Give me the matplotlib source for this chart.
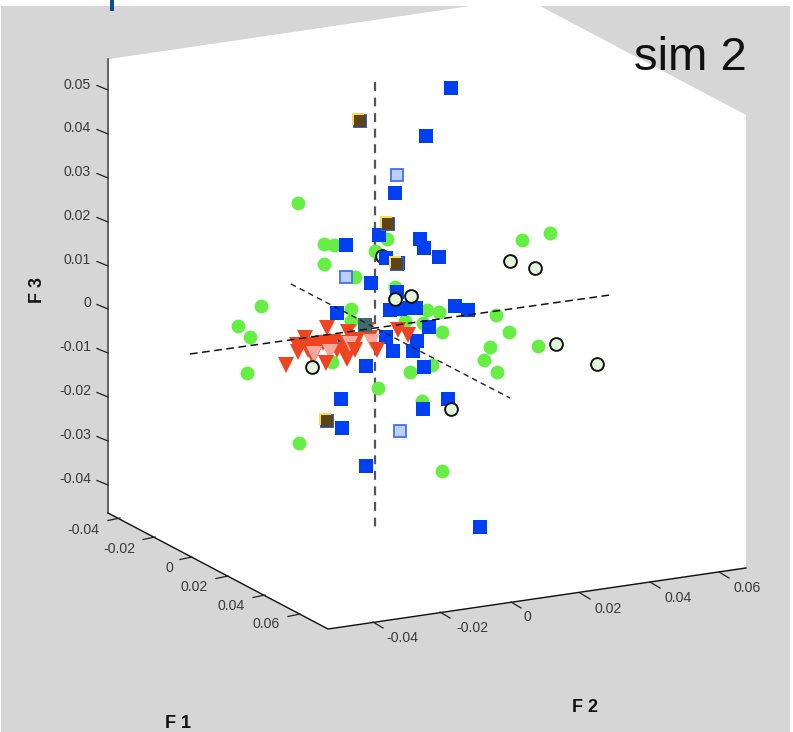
import matplotlib
matplotlib.use('Agg')
import matplotlib.pyplot as plt
from matplotlib.patches import Polygon, Rectangle
import numpy as np

blue_x = [451, 426, 395, 346, 379, 420, 424, 439, 386, 398, 371, 397, 390, 400, 416, 410, 455, 468, 429, 386,
          417, 393, 413, 424, 448, 423, 337, 366, 341, 342, 366, 480, 345]
blue_y = [88, 136, 193, 245, 235, 239, 248, 257, 258, 263, 283, 292, 310, 309, 308, 308, 306, 310, 327, 337,
          341, 351, 351, 367, 399, 409, 313, 366, 399, 428, 466, 527, 344]

green_x = [298, 324, 334, 324, 355, 387, 375, 395, 550, 522, 427, 439, 405, 423, 496, 442, 509, 538, 490, 484,
           497, 432, 410, 378, 422, 261, 238, 250, 247, 351, 351, 299, 442, 332, 332]
green_y = [203, 244, 245, 264, 277, 239, 251, 287, 233, 240, 310, 312, 321, 323, 315, 332, 332, 346, 347, 360,
           372, 365, 372, 388, 401, 306, 326, 337, 373, 309, 321, 443, 471, 345, 362]

ring_x = [510, 535, 395, 411, 556, 597, 451, 312]
ring_y = [261, 268, 299, 296, 344, 364, 409, 367]

red_x = [327, 348, 367, 305, 297, 312, 323, 333, 298, 308, 317, 345, 357, 370, 313, 337, 286, 398, 408, 327, 345]
red_y = [328, 332, 330, 338, 345, 345, 343, 342, 352, 350, 348, 343, 340, 338, 357, 350, 365, 330, 335, 345, 352]

pink_x = [372, 350, 314, 330]
pink_y = [342, 344, 354, 352]

# these red ones lie over the pink ones
red_top_x = [347, 355, 377, 326]
red_top_y = [359, 350, 350, 363]

lightblue_x = [397, 346, 400]
lightblue_y = [175, 277, 431]

brown_x = [359, 387, 396, 326]
brown_y = [120, 223, 263, 420]

box_x = [109, 470, 540, 746, 746, 328, 109]
box_y = [59, 6, 6, 115, 567, 629, 513]

f3_labels = ['0.05', '0.04', '0.03', '0.02', '0.01', '0', '-0.01', '-0.02', '-0.03', '-0.04']
f3_tick_y = [90, 134, 178, 222, 266, 309, 353, 397, 441, 485]
f3_label_y = [85, 128, 172, 216, 260, 303, 347, 391, 435, 479]

f1_labels = ['-0.04', '-0.02', '0', '0.02', '0.04', '0.06']
f1_tick_x = [120, 155, 192, 228, 265, 300]
f1_tick_y = [518, 537, 557, 576, 595, 614]
f1_label_x = [83, 119, 169, 194, 231, 266]
f1_label_y = [530, 549, 568, 587, 606, 624]

f2_labels = ['-0.04', '-0.02', '0', '0.02', '0.04', '0.06']
f2_tick_x = [373, 440, 511, 580, 650, 719]
f2_tick_y = [622, 612, 602, 593, 582, 572]
f2_label_x = [402, 472, 527, 608, 678, 747]
f2_label_y = [638, 628, 617, 609, 598, 588]

plt.rcParams['font.family'] = ['Liberation Sans', 'DejaVu Sans']

fig = plt.figure(figsize=(7.93, 7.32), dpi=100)
ax = fig.add_axes([0, 0, 1, 1])
ax.set_xlim(0, 793)
ax.set_ylim(732, 0)
ax.axis('off')

ax.add_patch(Rectangle((1, 6), 789, 726, fc='#d6d6d6', ec='none', zorder=0))
ax.add_patch(Rectangle((110, 0), 4, 11, fc='#0f4c96', ec='none', zorder=1))
ax.add_patch(Polygon(list(zip(box_x, box_y)), closed=True, fc='white', ec='none', zorder=1))

# box edges
ax.plot([108, 108], [59, 513], color='#444444', lw=1.1, zorder=2)
ax.plot([108, 328, 746], [513, 629, 568], color='#111111', lw=1.0, zorder=2)

tick_color = '#222222'
for y in f3_tick_y:
    ax.plot([97, 108], [y - 4.5, y], color=tick_color, lw=0.9, zorder=2)
for x, y in zip(f1_tick_x, f1_tick_y):
    ax.plot([x - 12, x], [y + 2.5, y], color=tick_color, lw=0.9, zorder=2)
for x, y in zip(f2_tick_x, f2_tick_y):
    ax.plot([x, x + 10], [y, y + 6], color=tick_color, lw=0.9, zorder=2)

label_color = '#3a3a3a'
for lab, y in zip(f3_labels, f3_label_y):
    ax.text(91, y, lab, ha='right', va='center', fontsize=10.2, color=label_color)
for lab, x, y in zip(f1_labels, f1_label_x, f1_label_y):
    ax.text(x, y, lab, ha='center', va='center', fontsize=10.2, color=label_color)
for lab, x, y in zip(f2_labels, f2_label_x, f2_label_y):
    ax.text(x, y, lab, ha='center', va='center', fontsize=10.2, color=label_color)

ax.text(38, 290, 'F 3', rotation=90, ha='center', va='center', fontsize=13, fontweight='bold', color='#111111')
ax.text(585, 708, 'F 2', ha='center', va='center', fontsize=13, fontweight='bold', color='#111111')
# the reference cuts this one at the bottom edge, keep it just inside
ax.text(178, 723, 'F 1', ha='center', va='center', fontsize=13, fontweight='bold', color='#111111')
ax.text(690, 58, 'sim 2', ha='center', va='center', fontsize=34, color='#111111', zorder=10)

# centre axes
ax.plot([375, 375], [82, 530], color='#555555', lw=1.6, ls=(0, (4, 3)), zorder=2)

ms = 10
ax.plot(green_x, green_y, 'o', color='#66ee44', ms=ms, mew=0, zorder=3)
ax.plot([382], [256], 'o', mfc='#e2f7dc', mec='#111111', mew=1.4, ms=9.2, zorder=3)
ax.plot(blue_x, blue_y, 's', color='#0040f5', ms=ms, mew=0, zorder=4)
ax.plot(lightblue_x, lightblue_y, 's', mfc='#bdd0fb', mec='#4070f5', mew=1.3, ms=9, zorder=4)
ax.plot(np.array(brown_x) + 1, np.array(brown_y) + 0.5, 's', color='#2f60f5', ms=ms, mew=0, zorder=4)
ax.plot(np.array(brown_x) - 1, np.array(brown_y) - 1, 's', color='#f5dc50', ms=8.6, mew=0, zorder=4)
ax.plot(np.array(brown_x) + 0.5, np.array(brown_y) + 0.5, 's', color='#5c4416', ms=8.2, mew=0, zorder=4)
ax.plot(red_x, red_y, 'v', color='#f04420', ms=12, mew=0, zorder=5)
ax.plot(pink_x, pink_y, 'v', color='#f5a89e', ms=12, mew=0, zorder=5)
ax.plot(red_top_x, red_top_y, 'v', color='#f04420', ms=12, mew=0, zorder=5)
ax.plot([365], [325], 's', color='#3f6a72', ms=ms, mew=0, zorder=5)
ax.plot(ring_x, ring_y, 'o', mfc='#e2f7dc', mec='#111111', mew=1.4, ms=9.2, zorder=7)

ax.plot([190, 610], [354, 295], color='#111111', lw=1.1, ls=(0, (5, 3)), zorder=6)
ax.plot([291, 510], [284, 398], color='#222222', lw=1.0, ls=(0, (4, 3)), zorder=6)

fig.savefig('out.png', dpi=100, facecolor='white')
